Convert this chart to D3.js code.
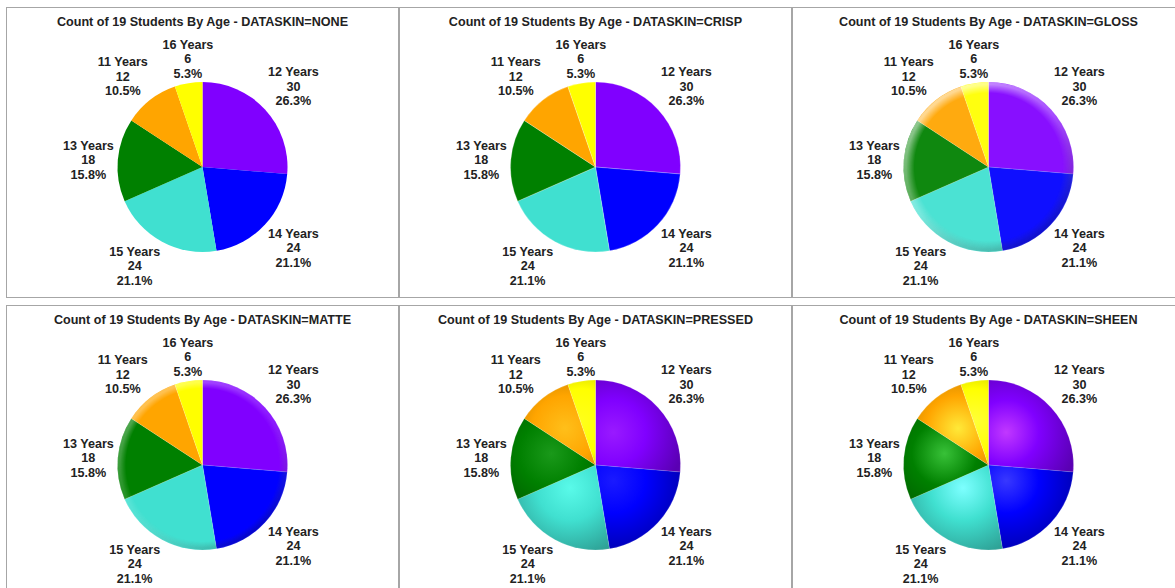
<!DOCTYPE html>
<html>
<head>
<meta charset="utf-8">
<script src="https://cdn.jsdelivr.net/npm/d3@7"></script>
<style>
  body { margin: 0; background: #fff; }
  svg { display: block; font-family: "Liberation Sans", Arial, sans-serif; }
</style>
</head>
<body>
<svg id="chart" width="1175" height="588"></svg>
<script>
// ---- data ----
const ageGroups = ["12 Years", "14 Years", "15 Years", "13 Years", "11 Years", "16 Years"];
const counts = [30, 24, 24, 18, 12, 6];
const sliceColors = ["#8000ff", "#0000ff", "#40e0d0", "#008000", "#ffa500", "#ffff00"];
const dataSkins = ["NONE", "CRISP", "GLOSS", "MATTE", "PRESSED", "SHEEN"];
const studentCount = 19;

// ---- layout ----
const panelX = [6, 399, 792];
const panelY = [7, 305];
const panelW = 392, panelH = 290;
const R = 85;            // pie radius
const pieCY = 160;       // pie centre, relative to panel top
const labelGap = 4;      // gap between pie edge and label box
const lineH = 14.5;      // label line spacing
const fontSize = 12.6;
const textColor = "#222";

const svg = d3.select("#chart");
const defs = svg.append("defs");

const rows = ageGroups.map((g, i) => ({ group: g, count: counts[i], color: sliceColors[i] }));
const total = d3.sum(counts);
const pct = d3.format(".1%");
const color = d3.scaleOrdinal().domain(ageGroups).range(sliceColors);

const pie = d3.pie().sort(null).value(d => d.count);
const arcs = pie(rows);
const arc = d3.arc().innerRadius(0).outerRadius(R);

const lighten = (c, t) => d3.interpolateRgb(c, "#ffffff")(t);
const darken = (c, t) => d3.interpolateRgb(c, "#000000")(t);

// Rim overlay: a light-to-dark linear wash visible only near the pie edge
function rimOverlay(g, id, inner, hiOp, midOp, loOp) {
  const m = defs.append("radialGradient").attr("id", id + "-rimgrad");
  m.append("stop").attr("offset", 0).attr("stop-color", "#000");
  m.append("stop").attr("offset", inner).attr("stop-color", "#000");
  m.append("stop").attr("offset", 0.97).attr("stop-color", "#fff");
  m.append("stop").attr("offset", 1).attr("stop-color", "#fff");
  const mask = defs.append("mask").attr("id", id + "-rimmask")
    .attr("maskContentUnits", "userSpaceOnUse");
  mask.append("circle").attr("r", R).attr("fill", `url(#${id}-rimgrad)`);

  const lg = defs.append("linearGradient").attr("id", id + "-wash")
    .attr("x1", 0.15).attr("y1", 0.05).attr("x2", 0.8).attr("y2", 0.95);
  lg.append("stop").attr("offset", 0).attr("stop-color", "#fff").attr("stop-opacity", hiOp);
  lg.append("stop").attr("offset", 0.5).attr("stop-color", "#fff").attr("stop-opacity", midOp);
  lg.append("stop").attr("offset", 1).attr("stop-color", "#000").attr("stop-opacity", loOp);

  g.append("circle").attr("r", R)
    .attr("fill", `url(#${id}-wash)`)
    .attr("mask", `url(#${id}-rimmask)`)
    .attr("pointer-events", "none");
}

// Per-slice shading: a bright spot inside each slice fading to a darker edge
function sliceGradient(id, d, i, boost, hi, dark) {
  const mid = (d.startAngle + d.endAngle) / 2;
  const cx = Math.sin(mid) * R * 0.42 - R * 0.1;
  const cy = -Math.cos(mid) * R * 0.42 - R * 0.1;
  const base = color(d.data.group);
  const bright = lighten(d3.rgb(base).brighter(boost).formatHex(), hi);
  const gr = defs.append("radialGradient").attr("id", `${id}-s${i}`)
    .attr("gradientUnits", "userSpaceOnUse")
    .attr("cx", cx).attr("cy", cy).attr("fx", cx).attr("fy", cy).attr("r", R * 0.85);
  gr.append("stop").attr("offset", 0).attr("stop-color", bright);
  gr.append("stop").attr("offset", 0.45).attr("stop-color", base);
  gr.append("stop").attr("offset", 1).attr("stop-color", darken(base, dark));
  return `url(#${id}-s${i})`;
}

dataSkins.forEach((skin, k) => {
  const px = panelX[k % 3], py = panelY[Math.floor(k / 3)];
  const id = "skin-" + skin.toLowerCase();
  const panel = svg.append("g").attr("transform", `translate(${px},${py})`);

  panel.append("rect")
    .attr("x", 0.5).attr("y", 0.5)
    .attr("width", panelW).attr("height", panelH)
    .attr("fill", "#fff").attr("stroke", "#a6a6a6").attr("stroke-width", 1);

  const cx = panelW / 2 + 0.5;
  panel.append("text")
    .attr("x", cx).attr("y", 18.5)
    .attr("text-anchor", "middle")
    .attr("font-size", fontSize).attr("font-weight", "bold")
    .attr("fill", textColor)
    .text(`Count of ${studentCount} Students By Age - DATASKIN=${skin}`);

  const g = panel.append("g").attr("transform", `translate(${cx},${pieCY})`);

  const fillFor = (d, i) => {
    const base = color(d.data.group);
    if (skin === "GLOSS") return lighten(base, 0.06);
    if (skin === "PRESSED") return sliceGradient(id, d, i, 0.3, 0.1, 0.3);
    if (skin === "SHEEN") return sliceGradient(id, d, i, 0.9, 0.22, 0.3);
    return base;
  };

  g.selectAll("path.slice").data(arcs).join("path")
    .attr("class", "slice")
    .attr("d", arc)
    .attr("fill", fillFor)
    .attr("stroke", skin === "NONE" ? "none" : "#ffffff")
    .attr("stroke-opacity", skin === "CRISP" ? 0.35 : 0.2)
    .attr("stroke-width", 0.7);

  if (skin === "GLOSS") rimOverlay(g, id, 0.87, 0.6, 0.25, 0.2);
  if (skin === "MATTE") rimOverlay(g, id, 0.9, 0.35, 0.1, 0.22);

  // labels: three lines placed just outside the slice's mid-angle
  const labels = g.selectAll("g.label").data(arcs).join("g").attr("class", "label");
  labels.each(function (d) {
    const lab = d3.select(this);
    const lines = [d.data.group, String(d.data.count), pct(d.data.count / total)];
    const texts = lab.selectAll("text").data(lines).join("text")
      .attr("text-anchor", "middle")
      .attr("font-size", fontSize).attr("font-weight", "bold")
      .attr("fill", textColor)
      .text(t => t);
    const hw = d3.max(texts.nodes(), n => n.getComputedTextLength()) / 2;
    const hh = lines.length * lineH / 2 - 1.2;

    const mid = (d.startAngle + d.endAngle) / 2;
    const ux = Math.sin(mid), uy = -Math.cos(mid);
    const ax = ux * (R + labelGap), ay = uy * (R + labelGap);
    const lim = Math.sin(Math.PI / 8);
    const ox = Math.abs(ux) < lim ? 0 : Math.sign(ux) * hw;
    const oy = Math.abs(uy) < lim ? 0 : Math.sign(uy) * hh;
    const lx = ax + ox, ly = ay + oy;

    texts.attr("x", lx)
      .attr("y", (t, i) => ly + (i - 1) * lineH + fontSize * 0.36);
  });
});
</script>
</body>
</html>
